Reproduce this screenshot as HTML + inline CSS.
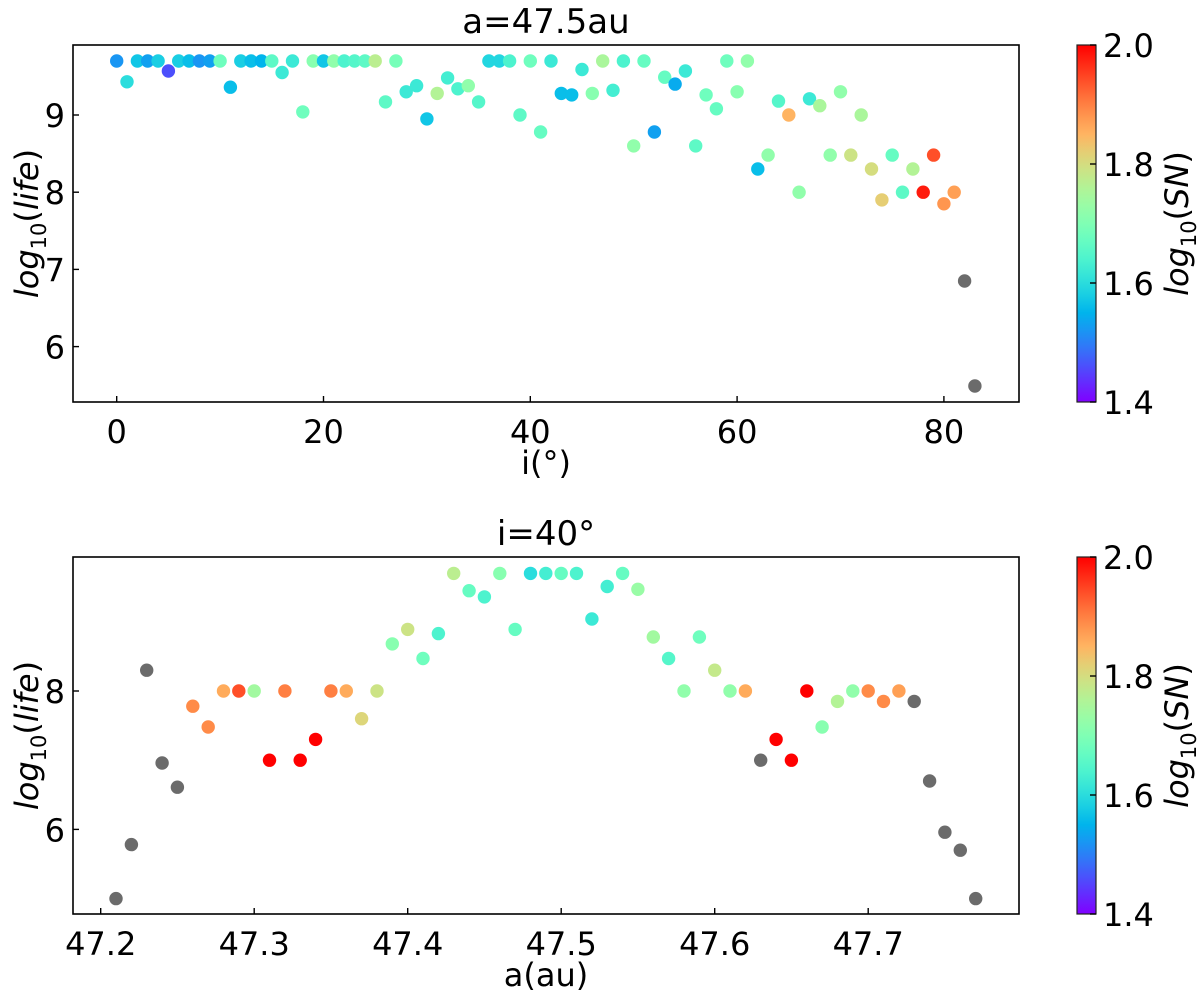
<!DOCTYPE html>
<html><head><meta charset="utf-8">
<style>
html,body{margin:0;padding:0;background:#fff;}
svg{display:block;font-family:"DejaVu Sans","Liberation Sans",sans-serif;}
</style></head>
<body>
<svg id="chart" width="1200" height="996" viewBox="0 0 1200 996" xmlns="http://www.w3.org/2000/svg">
<defs>
<linearGradient id="rainbow" x1="0" y1="1" x2="0" y2="0"></linearGradient>
</defs>
</svg>
<script>
// ---- Top panel data (a = 47.5 au) ----
const topInc = [0,1,2,3,4,5,6,7,8,9,10,11,12,13,14,15,16,17,18,19,20,21,22,23,24,25,26,27,28,29,30,31,32,33,34,35,36,37,38,39,40,41,42,43,44,45,46,47,48,49,50,51,52,53,54,55,56,57,58,59,60,61,62,63,64,65,66,67,68,69,70,71,72,73,74,75,76,77,78,79,80,81,82,83];
const topLife = [9.7,9.43,9.7,9.7,9.7,9.57,9.7,9.7,9.7,9.7,9.7,9.36,9.7,9.7,9.7,9.7,9.55,9.7,9.04,9.7,9.7,9.7,9.7,9.7,9.7,9.7,9.17,9.7,9.30,9.38,8.95,9.28,9.48,9.34,9.38,9.17,9.7,9.7,9.7,9.0,9.7,8.78,9.7,9.28,9.26,9.59,9.28,9.7,9.32,9.7,8.60,9.7,8.78,9.49,9.40,9.57,8.60,9.26,9.08,9.7,9.30,9.7,8.30,8.48,9.18,9.0,8.0,9.21,9.12,8.48,9.30,8.48,9.0,8.30,7.90,8.48,8.0,8.30,8.0,8.48,7.85,8.0,6.85,5.49];
const topSN = [1.52,1.60,1.57,1.53,1.58,1.46,1.58,1.56,1.52,1.53,1.68,1.56,1.58,1.56,1.55,1.66,1.62,1.62,1.68,1.71,1.57,1.72,1.64,1.65,1.66,1.77,1.66,1.69,1.62,1.62,1.57,1.76,1.63,1.64,1.72,1.65,1.59,1.59,1.64,1.66,1.68,1.67,1.62,1.56,1.56,1.62,1.71,1.75,1.63,1.64,1.72,1.67,1.53,1.67,1.54,1.62,1.66,1.68,1.67,1.68,1.71,1.72,1.56,1.72,1.65,1.85,1.72,1.62,1.75,1.72,1.72,1.79,1.75,1.80,1.82,1.67,1.66,1.76,1.98,1.94,1.88,1.87,null,null];
const topXTicks = [0,20,40,60,80];
const topYTicks = [6,7,8,9];

// ---- Bottom panel data (i = 40°) ----
const botA = [47.21,47.22,47.23,47.24,47.25,47.26,47.27,47.28,47.29,47.30,47.31,47.32,47.33,47.34,47.35,47.36,47.37,47.38,47.39,47.40,47.41,47.42,47.43,47.44,47.45,47.46,47.47,47.48,47.49,47.50,47.51,47.52,47.53,47.54,47.55,47.56,47.57,47.58,47.59,47.60,47.61,47.62,47.63,47.64,47.65,47.66,47.67,47.68,47.69,47.70,47.71,47.72,47.73,47.74,47.75,47.76,47.77];
const botLife = [5.0,5.78,8.30,6.96,6.61,7.78,7.48,8.0,8.0,8.0,7.0,8.0,7.0,7.30,8.0,8.0,7.60,8.0,8.68,8.89,8.47,8.83,9.7,9.45,9.36,9.7,8.89,9.7,9.7,9.7,9.7,9.04,9.51,9.7,9.47,8.78,8.47,8.0,8.78,8.30,8.0,8.0,7.0,7.30,7.0,8.0,7.48,7.85,8.0,8.0,7.85,8.0,7.85,6.70,5.96,5.70,5.0];
const botSN = [null,null,null,null,null,1.89,1.89,1.86,1.94,1.74,2.0,1.90,2.0,2.0,1.90,1.86,1.81,1.79,1.71,1.79,1.68,1.64,1.77,1.67,1.64,1.71,1.67,1.60,1.63,1.67,1.64,1.62,1.63,1.67,1.73,1.74,1.65,1.72,1.68,1.78,1.72,1.86,null,2.0,2.0,2.0,1.71,1.76,1.72,1.89,1.89,1.87,null,null,null,null,null];
const botXTicks = [47.2,47.3,47.4,47.5,47.6,47.7];
const botYTicks = [6,8];
const cbTicks = [1.4,1.6,1.8,2.0];

const NS = "http://www.w3.org/2000/svg";
const svg = document.getElementById('chart');
function mk(tag, attrs, parent){ const e=document.createElementNS(NS,tag); for(const k in attrs) e.setAttribute(k,attrs[k]); (parent||svg).appendChild(e); return e; }

function rainbow(v){
  let x=(v-1.4)/0.6; x=Math.max(0,Math.min(1,x));
  const r=Math.min(1,Math.abs(2*x-0.5)), g=Math.sin(Math.PI*x), b=Math.cos(Math.PI*x/2);
  return `rgb(${Math.round(r*255)},${Math.round(g*255)},${Math.round(b*255)})`;
}
const grad=document.getElementById('rainbow');
for(let i=0;i<=20;i++){ const s=document.createElementNS(NS,'stop'); s.setAttribute('offset',(i/20)); s.setAttribute('stop-color',rainbow(1.4+0.6*i/20)); grad.appendChild(s); }

function panel(cfg){
  const g=mk('g',{});
  
  
  const {L,R,T,B}=cfg;
  const sx=v=>cfg.x0px+(v-cfg.x0)*cfg.xs;
  const sy=v=>cfg.y0px-(v-cfg.y0)*cfg.ys;
  for(let i=0;i<cfg.xs_data.length;i++){
    const c=mk('circle',{cx:sx(cfg.xs_data[i]).toFixed(1),cy:sy(cfg.ys_data[i]).toFixed(1),r:6.7,fill:cfg.sn[i]==null?'#6b6b6b':rainbow(cfg.sn[i])},g);
    
    
  }
  const box=mk('rect',{x:L,y:T,width:R-L,height:B-T,fill:'none',stroke:'#000','stroke-width':1.6},g);
  
  
  for(const t of cfg.xticks){
    const x=sx(t);
    mk('line',{x1:x,x2:x,y1:B,y2:B-6,stroke:'#000','stroke-width':1.4},g);
    const tx=mk('text',{x:x,y:B+41,'text-anchor':'middle','font-size':32},g);
    tx.textContent=cfg.xfmt(t);
    
    
  }
  for(const t of cfg.yticks){
    const y=sy(t);
    mk('line',{x1:L,x2:L+6,y1:y,y2:y,stroke:'#000','stroke-width':1.4},g);
    const ty=mk('text',{x:L-8,y:y+12,'text-anchor':'end','font-size':32},g);
    ty.textContent=String(t);
    
    
  }
  const title=mk('text',{x:(L+R)/2,y:T-12,'text-anchor':'middle','font-size':34},g);
  title.textContent=cfg.title;
  
  
  const xl=mk('text',{x:(L+R)/2,y:B+72,'text-anchor':'middle','font-size':32},g);
  xl.textContent=cfg.xlabel;
  
  
  const yl=mk('text',{x:0,y:0,'text-anchor':'middle','font-size':32,transform:`translate(38,${(T+B)/2}) rotate(-90)`},g);
  yl.innerHTML='<tspan font-style="italic">log</tspan><tspan font-size="21" dy="8">10</tspan><tspan dy="-8">(</tspan><tspan font-style="italic">life</tspan><tspan>)</tspan>';
  
  
  const cb=mk('g',{},svg);
  
  
  const cx0=1077, cx1=1096;
  mk('rect',{x:cx0,y:T,width:cx1-cx0,height:B-T,fill:'url(#rainbow)',stroke:'#222','stroke-width':1.2},cb);
  const cs=v=>B-(v-1.4)/0.6*(B-T);
  for(const t of cbTicks){
    const y=cs(t);
    mk('line',{x1:cx1-6,x2:cx1,y1:y,y2:y,stroke:'#000','stroke-width':1.4},cb);
    const tt=mk('text',{x:1103,y:y+12,'font-size':32},cb);
    tt.textContent=t.toFixed(1);
    
    
  }
  const cl=mk('text',{x:0,y:0,'text-anchor':'middle','font-size':32,transform:`translate(1188,${(T+B)/2}) rotate(-90)`},cb);
  cl.innerHTML='<tspan font-style="italic">log</tspan><tspan font-size="21" dy="8">10</tspan><tspan dy="-8">(</tspan><tspan font-style="italic">SN</tspan><tspan>)</tspan>';
  
  
}

panel({name:'top-panel',L:73,R:1019,T:45,B:402,x0:0,x0px:116.7,xs:10.34,y0:9,y0px:115,ys:77.2,
  xs_data:topInc,ys_data:topLife,sn:topSN,xticks:topXTicks,yticks:topYTicks,xfmt:t=>String(t),
  title:'a=47.5au',xlabel:'i(°)'});
panel({name:'bottom-panel',L:73,R:1019,T:557,B:914,x0:47.2,x0px:100.7,xs:1535,y0:8,y0px:691,ys:69.2,
  xs_data:botA,ys_data:botLife,sn:botSN,xticks:botXTicks,yticks:botYTicks,xfmt:t=>t.toFixed(1),
  title:'i=40°',xlabel:'a(au)'});
</script>
</body></html>
